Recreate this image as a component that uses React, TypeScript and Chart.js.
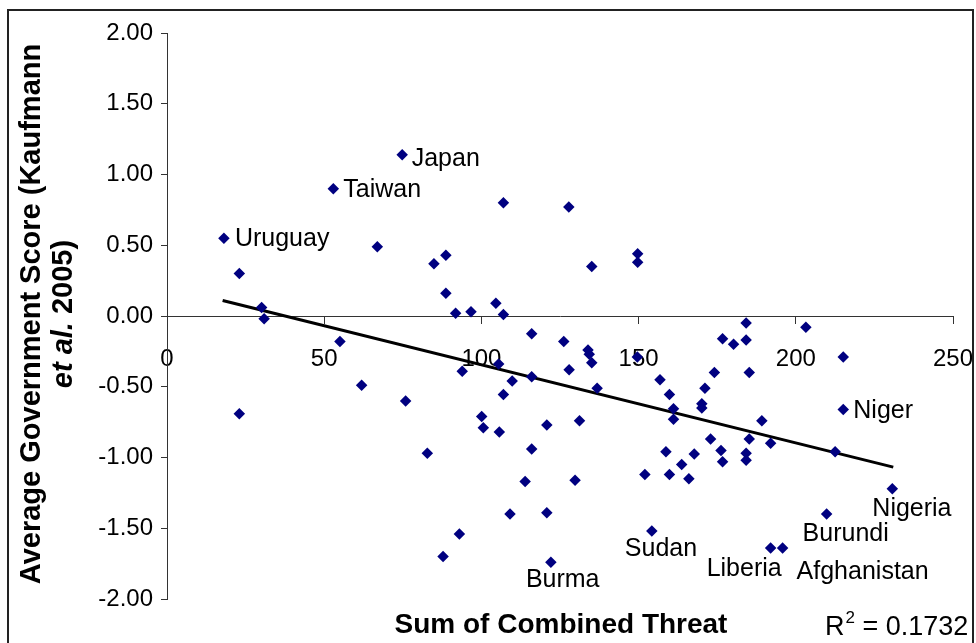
import React, { useEffect, useRef } from "react";
import { Chart, registerables } from "chart.js";

Chart.register(...registerables);

// Sum of combined threat (x) and average government score (y)
const threatSum = [
  18.1, 23.0, 30.1, 30.9, 23.0, 52.9, 55.0, 61.9, 66.9, 74.8,
  75.9, 82.8, 84.9, 87.8, 88.7, 88.7, 91.8, 93.0, 93.9, 96.7,
  100.1, 100.6, 104.6, 105.5, 105.7, 107.0, 107.0, 107.0, 109.1, 109.8,
  113.9, 116.0, 116.0, 116.0, 120.8, 120.8, 122.1, 126.2, 127.8, 127.9,
  129.8, 131.2, 133.9, 134.3, 135.1, 135.1, 136.8, 149.7, 149.7, 149.6,
  152.0, 154.2, 156.8, 158.7, 159.8, 159.8, 161.1, 161.1, 163.7, 166.0,
  167.7, 170.1, 170.1, 171.1, 172.9, 174.1, 176.2, 176.7, 176.7, 180.2,
  184.2, 184.2, 185.2, 185.2, 184.2, 184.2, 189.2, 192.0, 192.0, 195.8,
  203.2, 209.8, 212.5, 215.1, 215.1, 230.7,
];
const govScore = [
  0.55, 0.30, 0.06, -0.02, -0.69, 0.90, -0.18, -0.49, 0.49, 1.14,
  -0.60, -0.97, 0.37, -1.70, 0.43, 0.16, 0.02, -1.54, -0.39, 0.03,
  -0.71, -0.79, 0.09, -0.34, -0.82, 0.80, 0.01, -0.555, -1.40, -0.46,
  -1.17, -0.125, -0.43, -0.94, -0.77, -1.39, -1.74, -0.18, 0.77, -0.38,
  -1.16, -0.74, -0.24, -0.27, -0.33, 0.35, -0.51, 0.44, 0.38, -0.29,
  -1.12, -1.52, -0.45, -0.96, -0.555, -1.12, -0.655, -0.73, -1.05, -1.15,
  -0.975, -0.62, -0.65, -0.51, -0.87, -0.40, -0.95, -1.03, -0.16, -0.20,
  -0.05, -0.17, -0.40, -0.87, -0.97, -1.02, -0.74, -0.90, -1.64, -1.64,
  -0.08, -1.40, -0.96, -0.29, -0.66, -1.22,
];
// Country names shown next to selected points (index into the arrays above)
const labelIndex = [0, 5, 9, 36, 51, 78, 79, 81, 84, 85];
const labelNames = ["Uruguay", "Taiwan", "Japan", "Burma", "Sudan", "Liberia", "Afghanistan", "Burundi", "Niger", "Nigeria"];

// Linear trend line end points
const trendX = [17.7, 231.0];
const trendY = [0.109, -1.068];

const xTicks = [0, 50, 100, 150, 200, 250];
const yTicks = [-2, -1.5, -1, -0.5, 0, 0.5, 1, 1.5, 2];
const rSquaredText = "0.1732";

// label placement offsets (pixels from the point: dx, baseline dy)
const labelOffsets: Record<string, [number, number]> = {
  Uruguay: [11, 8],
  Taiwan: [10, 8.5],
  Japan: [9.5, 11],
  Niger: [10, 9],
  Nigeria: [-20, 27],
  Burundi: [-24, 27],
  Liberia: [-64, 28],
  Afghanistan: [14, 31],
  Sudan: [-27, 25],
  Burma: [-25, 24.5],
};

const FONT = "'Liberation Sans', Arial, Helvetica, sans-serif";

export default function App() {
  const ref = useRef<HTMLCanvasElement | null>(null);

  useEffect(() => {
    document.body.style.margin = "0";
    const canvas = ref.current;
    if (!canvas) return;

    const points = threatSum.map((x, i) => ({ x, y: govScore[i] }));
    const trend = trendX.map((x, i) => ({ x, y: trendY[i] }));

    const decorations = {
      id: "decorations",
      afterDatasetsDraw(chart: any) {
        const ctx = chart.ctx as CanvasRenderingContext2D;
        const meta = chart.getDatasetMeta(0);
        ctx.save();
        ctx.fillStyle = "#000";
        ctx.font = `25px ${FONT}`;
        ctx.textAlign = "left";
        ctx.textBaseline = "alphabetic";
        labelIndex.forEach((idx, k) => {
          const el = meta.data[idx];
          if (!el) return;
          const name = labelNames[k];
          const off = labelOffsets[name] || [8, 8];
          ctx.fillText(name, el.x + off[0], el.y + off[1]);
        });
        ctx.restore();
      },
      afterDraw(chart: any) {
        const ctx = chart.ctx as CanvasRenderingContext2D;
        const area = chart.chartArea;
        ctx.save();
        // outer frame
        ctx.strokeStyle = "#222";
        ctx.lineWidth = 2;
        ctx.strokeRect(8, 10, 965, 650);

        // x title
        ctx.fillStyle = "#000";
        ctx.font = `bold 28px ${FONT}`;
        ctx.textAlign = "center";
        ctx.textBaseline = "alphabetic";
        ctx.fillText("Sum of Combined Threat", 561, 633);

        // R squared
        ctx.font = `27px ${FONT}`;
        ctx.textAlign = "left";
        const rx = 825;
        const ry = 635;
        ctx.fillText("R", rx, ry);
        const rw = ctx.measureText("R").width;
        ctx.font = `17px ${FONT}`;
        ctx.fillText("2", rx + rw + 1, ry - 12);
        const sw = ctx.measureText("2").width;
        ctx.font = `27px ${FONT}`;
        ctx.fillText(" = " + rSquaredText, rx + rw + sw + 1, ry);

        // y title (two lines, rotated)
        const cy = (area.top + area.bottom) / 2 - 2;
        ctx.translate(0, cy);
        ctx.rotate(-Math.PI / 2);
        ctx.textAlign = "center";
        ctx.textBaseline = "middle";
        ctx.font = `bold 29px ${FONT}`;
        ctx.fillText("Average Government Score (Kaufmann", 0, 32);
        ctx.font = `italic bold 29px ${FONT}`;
        const p1 = "et al.";
        const w1 = ctx.measureText(p1).width;
        ctx.font = `bold 29px ${FONT}`;
        const p2 = " 2005)";
        const w2 = ctx.measureText(p2).width;
        const start = -(w1 + w2) / 2;
        ctx.textAlign = "left";
        ctx.font = `italic bold 29px ${FONT}`;
        ctx.fillText(p1, start, 64);
        ctx.font = `bold 29px ${FONT}`;
        ctx.fillText(p2, start + w1, 64);
        ctx.restore();
      },
    };

    const chart = new Chart(canvas, {
      type: "scatter",
      data: {
        datasets: [
          {
            data: points,
            pointStyle: "rectRot",
            pointRadius: 5.75,
            pointHoverRadius: 5.75,
            backgroundColor: "#000080",
            borderColor: "#000080",
            borderWidth: 0,
          },
          {
            type: "line",
            data: trend,
            borderColor: "#000",
            borderWidth: 3,
            pointRadius: 0,
            fill: false,
            showLine: true,
          } as any,
        ],
      },
      options: {
        responsive: false,
        animation: false,
        events: [],
        layout: { padding: { left: 87, top: 33, right: 23, bottom: 44 } },
        plugins: {
          legend: { display: false },
          tooltip: { enabled: false },
          title: { display: false },
        },
        scales: {
          x: {
            type: "linear",
            min: 0,
            max: 250,
            position: { y: 0 } as any,
            afterBuildTicks: (scale: any) => {
              scale.ticks = xTicks.map((v) => ({ value: v }));
            },
            afterFit: (scale: any) => {
              scale.paddingLeft = 0;
              scale.paddingRight = 0;
            },
            ticks: {
              color: "#000",
              font: { family: FONT, size: 24 },
              padding: 22,
              maxRotation: 0,
              callback: (v: any) => String(v),
            },
            grid: {
              display: true,
              drawOnChartArea: false,
              drawTicks: true,
              tickLength: 7,
              color: "#333",
            },
            border: { display: true, color: "#333", width: 1 },
          },
          y: {
            type: "linear",
            min: -2,
            max: 2,
            position: "left",
            afterFit: (scale: any) => {
              scale.width = 80;
            },
            afterBuildTicks: (scale: any) => {
              scale.ticks = yTicks.map((v) => ({ value: v }));
            },
            ticks: {
              color: "#000",
              font: { family: FONT, size: 24 },
              padding: 8,
              callback: (v: any) => Number(v).toFixed(2),
            },
            grid: {
              display: true,
              drawOnChartArea: false,
              drawTicks: true,
              tickLength: 6,
              color: "#333",
            },
            border: { display: true, color: "#333", width: 1 },
          },
        },
      },
      plugins: [decorations],
    });

    return () => {
      chart.destroy();
    };
  }, []);

  return (
    <div style={{ width: 976, height: 643, position: "relative", background: "#fff" }}>
      <canvas ref={ref} width={976} height={643} style={{ width: 976, height: 643, display: "block" }} />
    </div>
  );
}
